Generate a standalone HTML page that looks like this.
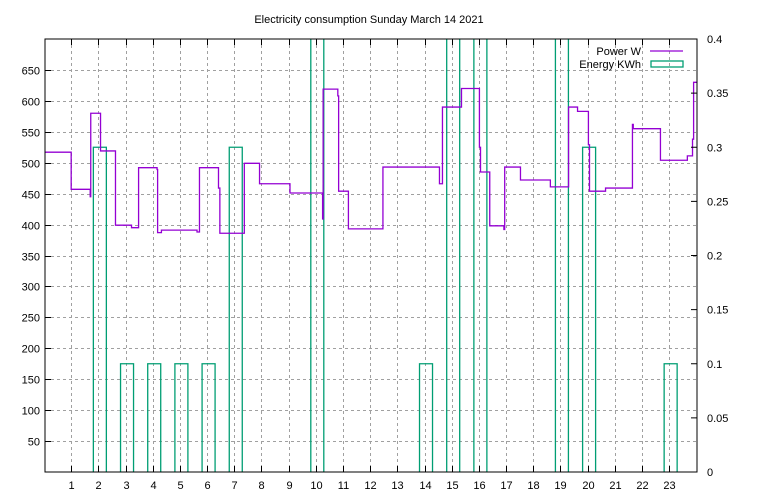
<!DOCTYPE html>
<html><head><meta charset="utf-8"><style>
html,body{margin:0;padding:0;background:#fff;}
svg{display:block;font-family:"Liberation Sans",sans-serif;}
</style></head><body>
<svg id="chart" width="768" height="500" viewBox="0 0 768 500" xmlns="http://www.w3.org/2000/svg">
<defs><clipPath id="plotclip"><rect x="45" y="39.5" width="652" height="433"/></clipPath></defs>
<rect x="0" y="0" width="768" height="500" fill="#fff"/>
<text x="369" y="23" font-size="11" text-anchor="middle">Electricity consumption Sunday March 14 2021</text>
<g id="grid"></g>
<g id="bars" clip-path="url(#plotclip)"></g>
<g id="line"></g>
<g id="axes"></g>
<g>
<text x="641" y="55" font-size="11" text-anchor="end">Power W</text>
<line x1="650" y1="51" x2="683" y2="51" stroke="#9400d3" stroke-width="1.3"/>
<text x="641" y="68" font-size="11" text-anchor="end">Energy KWh</text>
<rect x="651" y="61" width="32" height="6" fill="none" stroke="#009e73" stroke-width="1.3"/>
</g>
</svg>
<script>
const energyHours = [2,3,4,5,6,7,10,14,15,16,19,20,23];
const energyValues = [0.3,0.1,0.1,0.1,0.1,0.3,0.5,0.1,0.5,0.5,0.5,0.3,0.1];
const powerTimes = [0,1.0,1.7,1.72,2.08,2.63,3.22,3.48,4.16,4.18,4.32,5.63,5.72,6.42,6.47,7.37,7.93,9.05,10.25,10.27,10.81,10.84,11.2,12.47,14.55,14.66,15.36,16.02,16.06,16.4,16.92,16.95,17.53,18.63,19.3,19.63,20.03,20.07,20.66,21.65,21.68,22.68,23.67,23.86,23.9];
const powerValues = [517,457,445,580,519,399,395,492,489,387,391,388,492,459,386,499,466,451,409,619,608,454,393,493,466,590,620,525,485,398,392,493,472,461,590,583,529,454,459,562,555,504,511,538,630];
const yTicks = [50,100,150,200,250,300,350,400,450,500,550,600,650];
const y2Ticks = ["0","0.05","0.1","0.15","0.2","0.25","0.3","0.35","0.4"];
const xTicks = [1,2,3,4,5,6,7,8,9,10,11,12,13,14,15,16,17,18,19,20,21,22,23];

const L=45,R=697,T=39,B=472;
const xs = h => 44.0 + h*27.18;
const ys = v => B - v*(B-T)/700;
const y2s = v => B - v*(B-T)/0.4;
const NS="http://www.w3.org/2000/svg";
function mk(tag,parent,attrs){const e=document.createElementNS(NS,tag);for(const k in attrs)e.setAttribute(k,attrs[k]);parent.appendChild(e);return e;}
const grid=document.getElementById('grid'),axes=document.getElementById('axes'),bars=document.getElementById('bars'),line=document.getElementById('line');

xTicks.forEach(h=>{
  const x=Math.round(xs(h))+0.5;
  const g=mk('line',grid,{x1:x,y1:T,x2:x,y2:B,stroke:'#a0a0a0','stroke-dasharray':'3,3','stroke-width':1});
  
  
  const t1=mk('line',axes,{x1:x,y1:B,x2:x,y2:B-6,stroke:'#000'});
  
  
  const t2=mk('line',axes,{x1:x,y1:T,x2:x,y2:T+6,stroke:'#000'});
  
  
  const lb=mk('text',axes,{x:x,y:B+17,'font-size':11,'text-anchor':'middle'});
  lb.textContent=h;
  
  
});
yTicks.forEach(v=>{
  const y=Math.round(ys(v))+0.5;
  const g=mk('line',grid,{x1:L,y1:y,x2:R,y2:y,stroke:'#a0a0a0','stroke-dasharray':'3,3','stroke-width':1});
  
  
  const t=mk('line',axes,{x1:L,y1:y,x2:L+6,y2:y,stroke:'#000'});
  
  
  const lb=mk('text',axes,{x:L-5,y:y+4,'font-size':11,'text-anchor':'end'});
  lb.textContent=v;
  
  
});
y2Ticks.forEach(s=>{
  const y=y2s(parseFloat(s));
  const t=mk('line',axes,{x1:R,y1:y,x2:R-6,y2:y,stroke:'#000'});
  
  
  const lb=mk('text',axes,{x:R+10,y:y+4,'font-size':11,'text-anchor':'start'});
  lb.textContent=s;
  
  
});
const fr=mk('rect',axes,{x:L,y:T,width:R-L,height:B-T,fill:'none',stroke:'#000','stroke-width':1});



energyHours.forEach((h,i)=>{
  const c=xs(h)+1.5;
  const x0=c-6.5,x1=c+6.5;
  const yt=Math.max(T-5,y2s(energyValues[i]));
  const p=mk('path',bars,{d:`M${x0},${B} L${x0},${yt} L${x1},${yt} L${x1},${B}`,fill:'none',stroke:'#009e73','stroke-width':1.3});
  
  
});
let d='';
powerTimes.forEach((t,i)=>{
  const x=xs(t),y=ys(powerValues[i]);
  const xe=i+1<powerTimes.length?xs(powerTimes[i+1]):R;
  d+=(i===0?`M${L},${y}`:`L${x},${y}`)+` L${Math.min(xe,R)},${y} `;
});
const pl=mk('path',line,{d:d,fill:'none',stroke:'#9400d3','stroke-width':1.3});


</script>
</body></html>
